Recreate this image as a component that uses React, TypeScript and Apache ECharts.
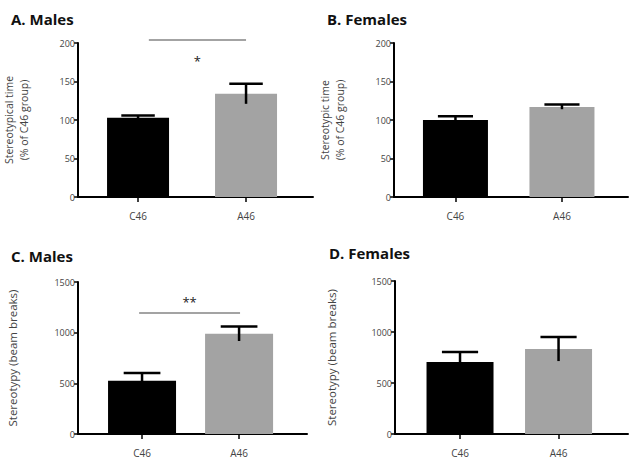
import React, { useEffect, useRef } from "react";
import * as echarts from "echarts";

const categories = ["C46", "A46"];
const panelTitles = ["A. Males", "B. Females", "C. Males", "D. Females"];
const yTitles = [
  "Stereotypical time\n(% of C46 group)",
  "Stereotypic time\n(% of C46 group)",
  "Stereotypy (beam breaks)",
  "Stereotypy (beam breaks)",
];
const meansA = [103, 134];
const semA = [3, 13];
const meansB = [100, 117];
const semB = [5, 3];
const meansC = [525, 990];
const semC = [78, 72];
const meansD = [705, 833];
const semD = [98, 118];
const yMaxes = [200, 200, 1500, 1500];
const yIntervals = [50, 50, 500, 500];
// significance annotations
const sigPanels = [0, 2];
const sigFrom = [0.1, -0.03];
const sigTo = [1.0, 1.01];
const sigY = [204, 1194];
const sigLabelY = [177, 1303];
const sigLabels = ["*", "**"];

const barColors = ["#000000", "#a3a3a3"];

const layouts = [
  { left: 78, top: 43, width: 235, height: 154, min: -0.556, max: 1.62, bw: 62, gap: 47, fs: 10.5 },
  { left: 394, top: 43, width: 234, height: 154, min: -0.577, max: 1.62, bw: 65, gap: 47, fs: 10.5 },
  { left: 78, top: 282, width: 229, height: 152, min: -0.66, max: 1.7, bw: 68, gap: 58, fs: 11.5 },
  { left: 395, top: 281, width: 233, height: 153, min: -0.66, max: 1.705, bw: 67, gap: 56, fs: 11.5 },
];
const titlePos = [
  { left: 6, top: 6 },
  { left: 322, top: 6 },
  { left: 6, top: 243 },
  { left: 324, top: 240 },
];

export default function App() {
  const ref = useRef<HTMLDivElement>(null);
  useEffect(() => {
    if (!ref.current) return;
    const chart = echarts.init(ref.current, null, { renderer: "svg" });
    const means = [meansA, meansB, meansC, meansD];
    const sems = [semA, semB, semC, semD];
    const font = "Open Sans";

    const grids: any[] = [];
    const xAxes: any[] = [];
    const yAxes: any[] = [];
    const series: any[] = [];
    const titles: any[] = [];

    layouts.forEach((L, i) => {
      grids.push({ left: L.left, top: L.top, width: L.width, height: L.height, containLabel: false });
      xAxes.push({
        type: "value",
        gridIndex: i,
        min: L.min,
        max: L.max,
        splitLine: { show: false },
        axisLine: { show: true, onZero: false, lineStyle: { color: "#000", width: 2 } },
        axisTick: { show: true, customValues: [0, 1], length: 5, lineStyle: { color: "#000", width: 1.5 } },
        axisLabel: {
          show: true,
          customValues: [0, 1],
          formatter: (v: number) => categories[Math.round(v)],
          fontSize: 10,
          color: "#444",
          margin: 14,
          fontFamily: font,
        },
      });
      yAxes.push({
        type: "value",
        gridIndex: i,
        min: 0,
        max: yMaxes[i],
        interval: yIntervals[i],
        splitLine: { show: false },
        axisLine: { show: true, onZero: false, lineStyle: { color: "#000", width: 2 } },
        axisTick: { show: true, length: 4, lineStyle: { color: "#000", width: 1.5 } },
        axisLabel: { fontSize: 9, color: "#444", margin: 3, fontFamily: font, formatter: (v: number) => String(v) },
        name: yTitles[i],
        nameLocation: "middle",
        nameGap: L.gap,
        nameTextStyle: { fontSize: L.fs, color: "#444", lineHeight: 15, fontFamily: font },
      });
      series.push({
        type: "bar",
        xAxisIndex: i,
        yAxisIndex: i,
        barWidth: L.bw,
        data: means[i].map((m, k) => ({ value: [k, m], itemStyle: { color: barColors[k] } })),
      });
      series.push({
        type: "custom",
        xAxisIndex: i,
        yAxisIndex: i,
        clip: false,
        z: 5,
        data: means[i].map((m, k) => [k, m, sems[i][k]]),
        renderItem: (params: any, api: any) => {
          const x = api.value(0);
          const m = api.value(1);
          const e = api.value(2);
          const top = api.coord([x, m + e]);
          const bot = api.coord([x, m - e]);
          const half = L.bw * 0.27;
          return {
            type: "group",
            children: [
              { type: "line", shape: { x1: top[0], y1: top[1], x2: bot[0], y2: bot[1] }, style: { stroke: "#000", lineWidth: 2.5 } },
              { type: "line", shape: { x1: top[0] - half, y1: top[1], x2: top[0] + half, y2: top[1] }, style: { stroke: "#000", lineWidth: 2.5 } },
            ],
          };
        },
      });
      titles.push({
        text: panelTitles[i],
        left: titlePos[i].left,
        top: titlePos[i].top,
        textStyle: { fontSize: 15, fontWeight: "bold", color: "#111", fontFamily: font },
      });
    });

    sigPanels.forEach((p, j) => {
      series.push({
        type: "custom",
        xAxisIndex: p,
        yAxisIndex: p,
        clip: false,
        z: 6,
        data: [[sigFrom[j], sigTo[j], sigY[j], sigLabelY[j]]],
        renderItem: (params: any, api: any) => {
          const a = api.coord([api.value(0), api.value(2)]);
          const b = api.coord([api.value(1), api.value(2)]);
          const c = api.coord([(api.value(0) + api.value(1)) / 2, api.value(3)]);
          return {
            type: "group",
            children: [
              { type: "line", shape: { x1: a[0], y1: a[1], x2: b[0], y2: b[1] }, style: { stroke: "#a3a3a3", lineWidth: 2 } },
              {
                type: "text",
                x: c[0],
                y: c[1],
                style: { text: sigLabels[j], fill: "#222", fontSize: 13, fontFamily: font, align: "center", verticalAlign: "middle" },
              },
            ],
          };
        },
      });
    });

    chart.setOption({
      animation: false,
      backgroundColor: "#fff",
      title: titles,
      grid: grids,
      xAxis: xAxes,
      yAxis: yAxes,
      series,
    });
    return () => chart.dispose();
  }, []);
  return <div ref={ref} style={{ position: "fixed", left: 0, top: 0, width: 632, height: 469 }} />;
}
